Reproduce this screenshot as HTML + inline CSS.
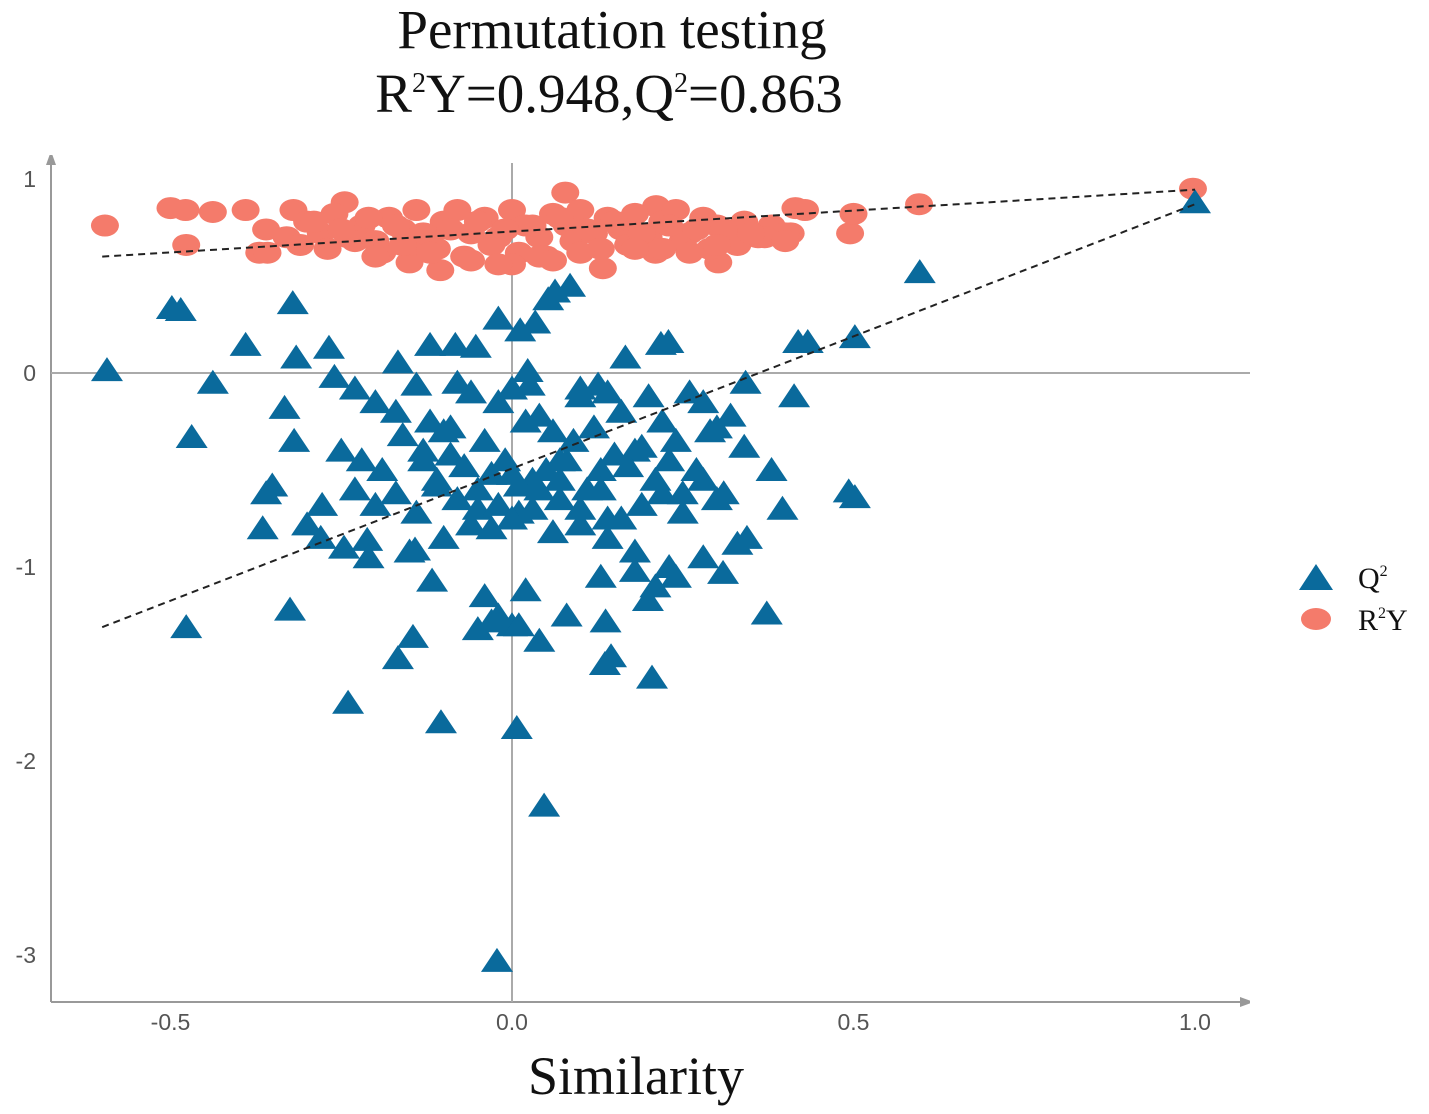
<!DOCTYPE html>
<html><head><meta charset="utf-8">
<style>
html,body{margin:0;padding:0;background:#fff;}
svg{display:block;}
.serif{font-family:"Liberation Serif",serif;fill:#111;}
.tick{font-family:"Liberation Sans",sans-serif;font-size:23px;fill:#555;}
</style></head>
<body>
<svg id="chart" width="1429" height="1114" viewBox="0 0 1429 1114" xmlns="http://www.w3.org/2000/svg">
<defs>
<marker id="arr" markerWidth="10" markerHeight="10" refX="5" refY="5" orient="auto" markerUnits="userSpaceOnUse"><path d="M0,0 L14,5 L0,10 Z" fill="#999"/></marker>
</defs>
<text class="serif" x="612" y="48" font-size="55" text-anchor="middle">Permutation testing</text>
<text class="serif" x="609" y="112" font-size="55" text-anchor="middle">R<tspan font-size="28" dy="-20">2</tspan><tspan dy="20">Y=0.948,Q</tspan><tspan font-size="28" dy="-20">2</tspan><tspan dy="20">=0.863</tspan></text>
<g id="axes"></g>
<g id="marks"></g>
<g id="legend">
  <polygon points="1316,564 1333,590 1299,590" fill="#0a6a9c"/>
  <text class="serif" x="1358" y="588" font-size="30">Q<tspan font-size="16" dy="-12">2</tspan></text>
  <ellipse cx="1316" cy="619" rx="15" ry="11" fill="#f47b6b"/>
  <text class="serif" x="1358" y="630" font-size="30">R<tspan font-size="16" dy="-12">2</tspan><tspan dy="12">Y</tspan></text>
</g>
<text class="serif" x="636" y="1094" font-size="54" text-anchor="middle">Similarity</text>
</svg>
<script>
const xTicks=[-0.5,0.0,0.5,1.0];
const xTickLabels=["-0.5","0.0","0.5","1.0"];
const yTicks=[1,0,-1,-2,-3];
const yTickLabels=["1","0","-1","-2","-3"];
const q2X=[-0.593,-0.498,-0.485,-0.321,-0.39,-0.316,-0.268,-0.438,-0.469,-0.477,-0.325,-0.24,-0.104,0.007,0.047,-0.022,0.597,1.0,0.502,0.419,0.433,0.413,0.342,0.38,0.396,0.493,0.502,0.373,0.344,0.309,0.205,0.199,0.137,0.145,0.136,-0.167,-0.145,-0.117,-0.365,-0.351,-0.333,-0.319,-0.3,-0.278,-0.246,-0.212,-0.142,-0.167,-0.12,-0.083,-0.053,-0.02,0.012,0.034,0.053,0.063,0.085,0.023,0.026,0.1,0.126,0.166,0.218,0.229,
-0.26,-0.23,-0.2,-0.17,-0.14,-0.12,-0.1,-0.08,-0.06,-0.04,-0.02,0.0,0.02,0.04,0.06,0.08,0.1,0.12,0.14,0.16,0.18,0.2,0.22,0.24,0.26,0.28,0.3,0.32,0.34,
-0.25,-0.22,-0.19,-0.16,-0.13,-0.11,-0.09,-0.07,-0.05,-0.03,-0.01,0.01,0.03,0.05,0.07,0.09,0.11,0.13,0.15,0.17,0.19,0.21,0.23,0.25,0.27,0.29,0.31,
-0.23,-0.2,-0.17,-0.14,-0.11,-0.08,-0.05,-0.02,0.01,0.04,0.07,0.1,0.13,0.16,0.19,0.22,0.25,0.28,0.3,
-0.36,-0.28,-0.21,-0.15,-0.1,-0.06,-0.03,0.0,0.03,0.06,0.1,0.14,0.18,0.23,0.28,0.33,
-0.04,-0.02,0.0,0.02,-0.05,-0.03,0.01,0.04,0.08,0.13,0.18,0.21,0.24,-0.09,-0.13,0.0,0.07,0.14];
const q2Y=[0.015,0.335,0.325,0.36,0.145,0.08,0.13,-0.05,-0.33,-1.31,-1.22,-1.7,-1.8,-1.83,-2.23,-3.03,0.52,0.88,0.185,0.16,0.16,-0.12,-0.05,-0.5,-0.7,-0.61,-0.64,-1.24,-0.85,-1.03,-1.57,-1.17,-1.28,-1.46,-1.5,-1.47,-1.36,-1.07,-0.8,-0.58,-0.18,-0.35,-0.78,-0.68,-0.9,-0.86,-0.91,0.055,0.145,0.145,0.135,0.28,0.22,0.26,0.38,0.42,0.45,0.01,-0.06,-0.08,-0.06,0.08,0.15,0.16,
-0.02,-0.08,-0.15,-0.2,-0.06,-0.25,-0.3,-0.05,-0.1,-0.35,-0.15,-0.08,-0.25,-0.22,-0.3,-0.45,-0.12,-0.28,-0.1,-0.2,-0.4,-0.12,-0.25,-0.35,-0.1,-0.15,-0.28,-0.22,-0.38,
-0.4,-0.45,-0.5,-0.32,-0.4,-0.55,-0.42,-0.48,-0.6,-0.52,-0.45,-0.58,-0.55,-0.5,-0.45,-0.35,-0.6,-0.5,-0.42,-0.48,-0.38,-0.55,-0.45,-0.62,-0.5,-0.3,-0.62,
-0.6,-0.68,-0.62,-0.72,-0.58,-0.65,-0.7,-0.68,-0.72,-0.6,-0.65,-0.7,-0.6,-0.75,-0.68,-0.62,-0.72,-0.55,-0.65,
-0.62,-0.85,-0.95,-0.92,-0.85,-0.78,-0.8,-0.75,-0.7,-0.82,-0.78,-0.85,-0.92,-1.0,-0.95,-0.88,
-1.15,-1.25,-1.3,-1.12,-1.32,-1.28,-1.3,-1.38,-1.25,-1.05,-1.02,-1.1,-1.05,-0.28,-0.45,-0.52,-0.55,-0.75];
const r2yX=[-0.596,-0.477,-0.5,-0.478,-0.438,-0.39,-0.37,-0.358,-0.32,-0.245,-0.15,-0.105,0.078,0.133,0.211,0.302,0.408,0.415,0.429,0.495,0.5,0.596,0.997,
-0.36,-0.33,-0.3,-0.28,-0.26,-0.24,-0.22,-0.2,-0.18,-0.16,-0.14,-0.12,-0.1,-0.08,-0.06,-0.04,-0.02,0.0,0.02,0.04,0.06,0.08,0.1,0.12,0.14,0.16,0.18,0.2,0.22,0.24,0.26,0.28,0.3,0.32,0.34,0.36,0.38,0.4,
-0.31,-0.27,-0.23,-0.19,-0.15,-0.11,-0.07,-0.03,0.01,0.05,0.09,0.13,0.17,0.21,0.25,0.29,0.33,0.37,0.4,
-0.29,-0.25,-0.21,-0.17,-0.13,-0.09,-0.05,-0.01,0.03,0.07,0.11,0.15,0.19,0.23,0.27,0.31,0.35,
-0.2,-0.12,-0.06,0.0,0.04,0.1,0.18,0.26,-0.16,-0.02,0.06,0.22,0.3];
const r2yY=[0.76,0.66,0.85,0.84,0.83,0.84,0.62,0.62,0.84,0.88,0.57,0.53,0.93,0.54,0.86,0.57,0.72,0.85,0.84,0.72,0.82,0.87,0.95,
0.74,0.7,0.78,0.72,0.82,0.7,0.76,0.68,0.8,0.74,0.84,0.7,0.78,0.84,0.72,0.8,0.7,0.84,0.76,0.7,0.82,0.76,0.84,0.72,0.8,0.74,0.82,0.7,0.78,0.84,0.72,0.8,0.76,0.7,0.78,0.7,0.76,0.72,
0.66,0.64,0.68,0.62,0.66,0.64,0.6,0.66,0.62,0.6,0.68,0.64,0.66,0.62,0.68,0.64,0.66,0.7,0.68,
0.78,0.74,0.8,0.76,0.72,0.74,0.78,0.74,0.76,0.8,0.74,0.78,0.72,0.76,0.74,0.74,0.72,
0.6,0.62,0.58,0.56,0.6,0.62,0.64,0.62,0.66,0.56,0.58,0.64,0.66];
const r2yLineX=[-0.6,1.0], r2yLineY=[0.6,0.945];
const q2LineX=[-0.6,1.0], q2LineY=[-1.31,0.87];

const sx=v=>512+v*683;
const sy=v=>373-v*194;
const NS="http://www.w3.org/2000/svg";
const axes=document.getElementById('axes');
const marks=document.getElementById('marks');
function mk(tag,attrs,parent){const e=document.createElementNS(NS,tag);for(const k in attrs)e.setAttribute(k,attrs[k]);parent.appendChild(e);return e;}

let e;
e=mk('line',{x1:51,y1:1002,x2:51,y2:160,stroke:'#999','stroke-width':2,'marker-end':'url(#arr)'},axes);


e=mk('line',{x1:51,y1:1002,x2:1245,y2:1002,stroke:'#999','stroke-width':2,'marker-end':'url(#arr)'},axes);


e=mk('line',{x1:sx(0),y1:163,x2:sx(0),y2:1002,stroke:'#aaa','stroke-width':2},axes);


e=mk('line',{x1:51,y1:sy(0),x2:1250,y2:sy(0),stroke:'#aaa','stroke-width':2},axes);


xTicks.forEach((t,i)=>{const tx=mk('text',{x:sx(t),y:1030,'text-anchor':'middle',class:'tick'},axes);tx.textContent=xTickLabels[i];

});
yTicks.forEach((t,i)=>{const tx=mk('text',{x:36,y:sy(t)+8,'text-anchor':'end',class:'tick'},axes);tx.textContent=yTickLabels[i];

});

r2yX.forEach((x,i)=>{const c=mk('ellipse',{cx:sx(x),cy:sy(r2yY[i]),rx:14,ry:11,fill:'#f47b6b'},marks);

});
q2X.forEach((x,i)=>{const px=sx(x),py=sy(q2Y[i]);const p=mk('polygon',{points:`${px},${py-13} ${px+16},${py+11} ${px-16},${py+11}`,fill:'#0a6a9c'},marks);

});
e=mk('line',{x1:sx(r2yLineX[0]),y1:sy(r2yLineY[0]),x2:sx(r2yLineX[1]),y2:sy(r2yLineY[1]),stroke:'#222','stroke-width':2,'stroke-dasharray':'7,5'},marks);


e=mk('line',{x1:sx(q2LineX[0]),y1:sy(q2LineY[0]),x2:sx(q2LineX[1]),y2:sy(q2LineY[1]),stroke:'#222','stroke-width':2,'stroke-dasharray':'7,5'},marks);


</script>
</body></html>
